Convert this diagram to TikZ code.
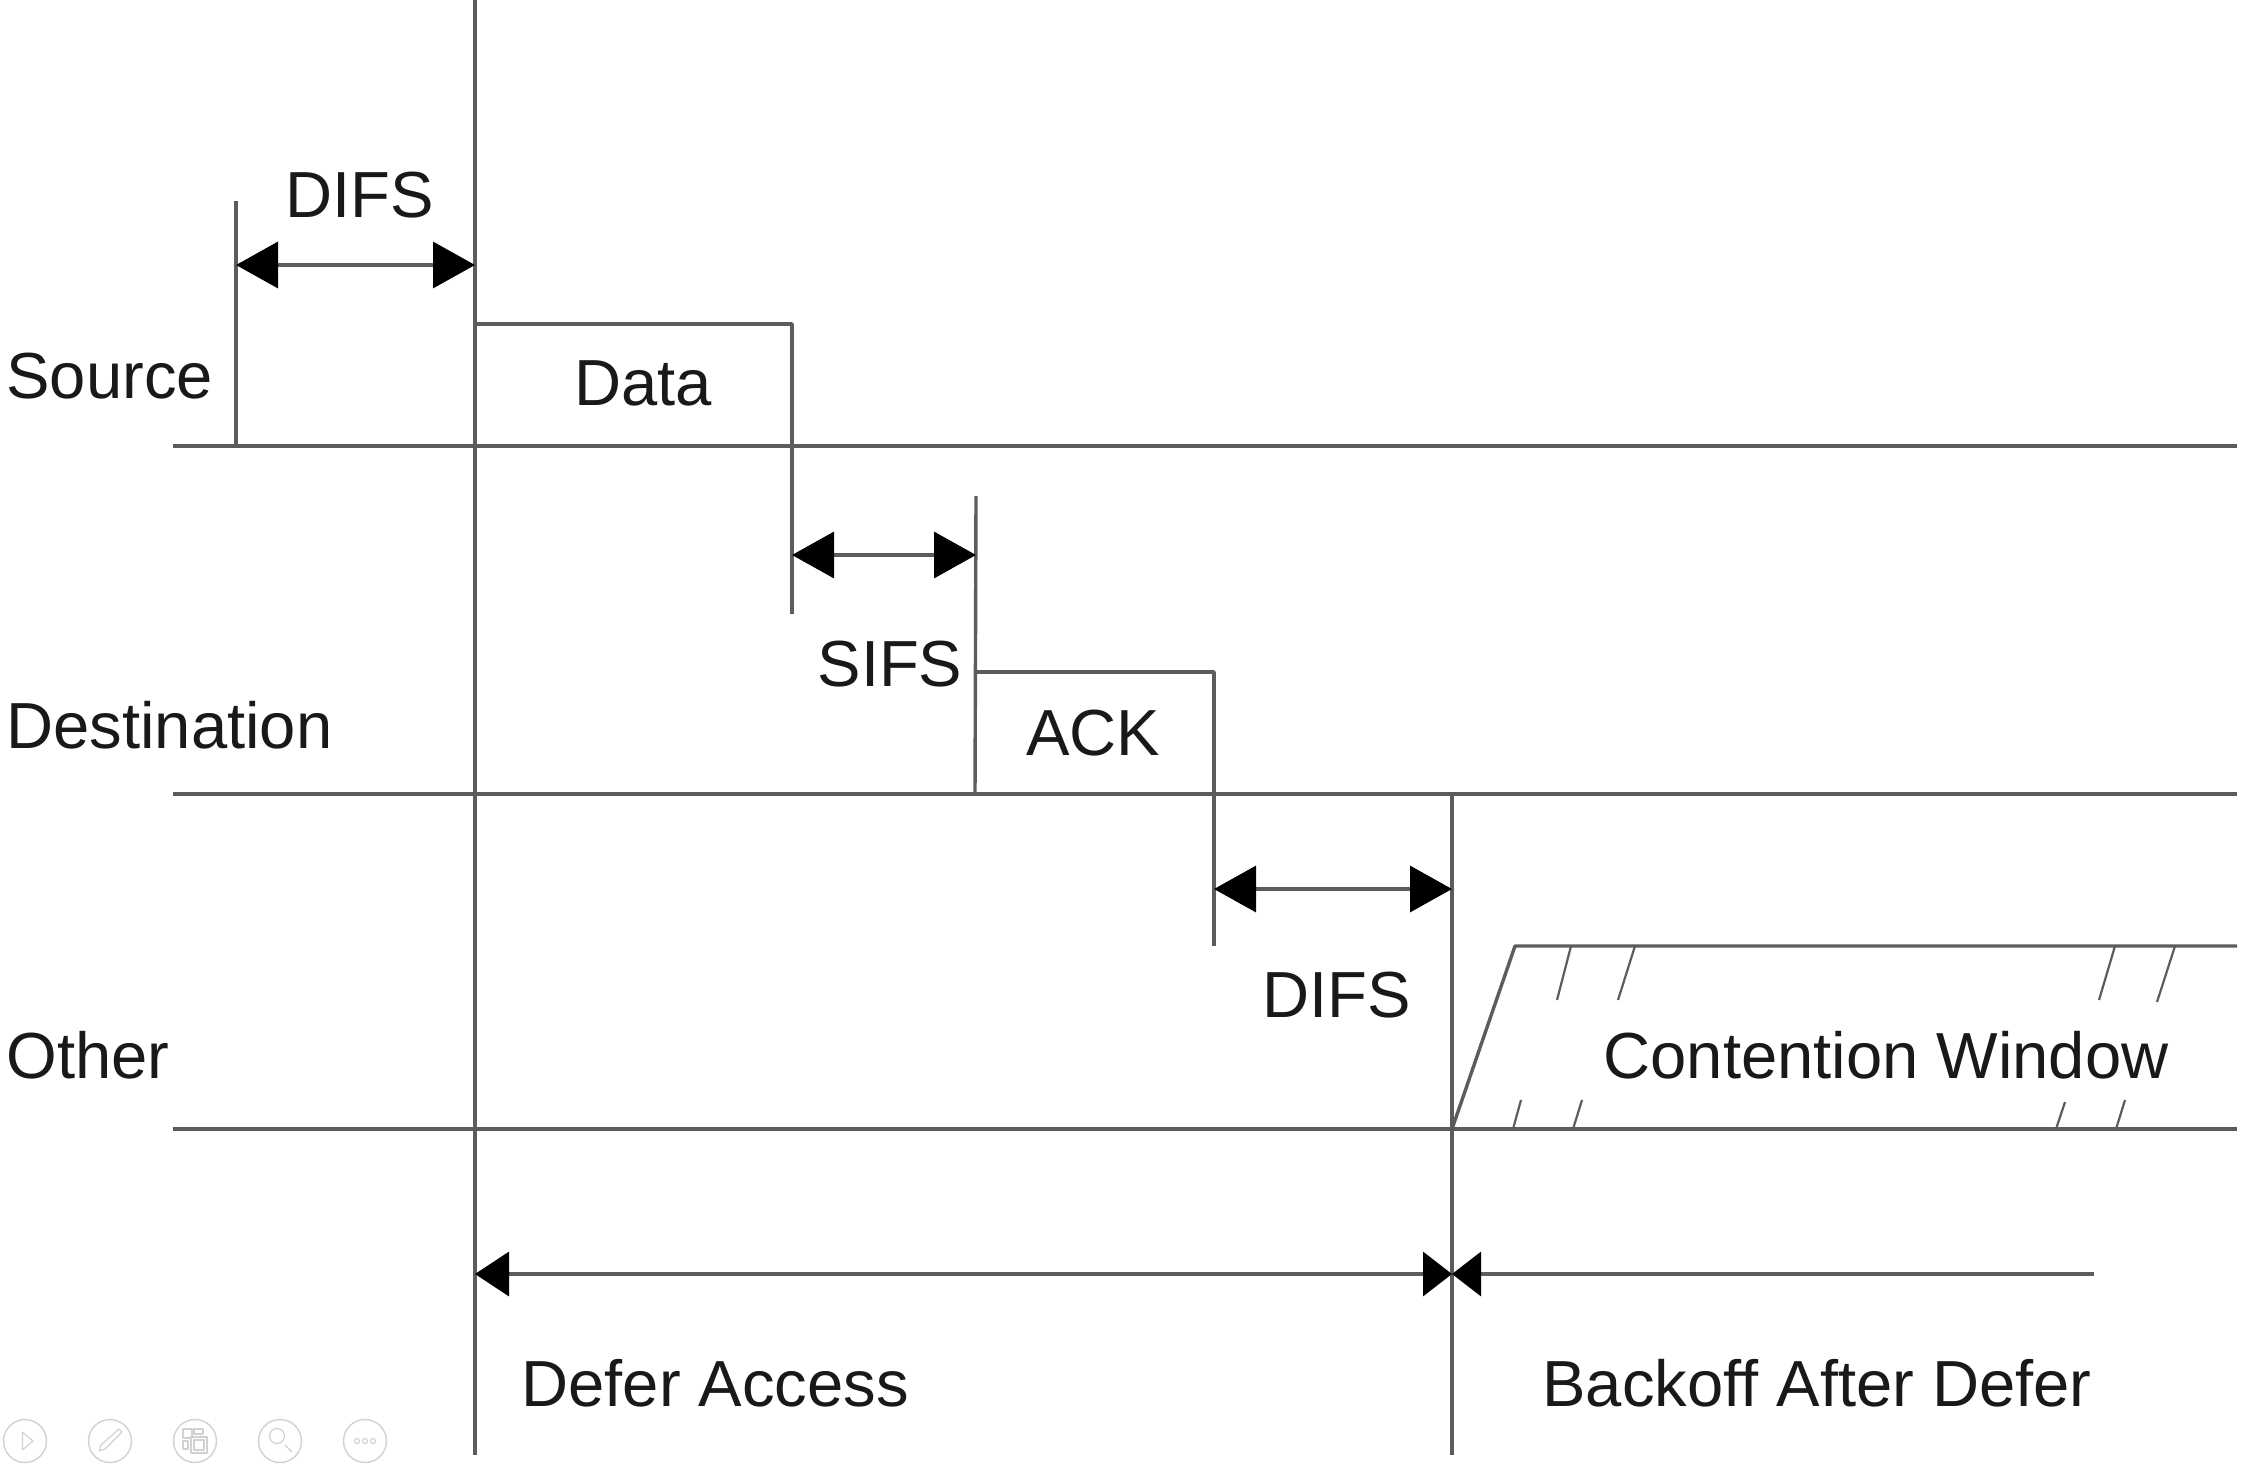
\documentclass[tikz,border=0pt]{standalone}
\usepackage{fontspec}
\setmainfont{Liberation Sans}
\usetikzlibrary{arrows.meta}
\definecolor{strokecol}{rgb}{0.36,0.36,0.36}
\definecolor{textcol}{rgb}{0.1,0.1,0.1}
\definecolor{iconcol}{rgb}{0.82,0.82,0.82}
\tikzset{
  wire/.style={draw=strokecol,line width=1.7bp},
  tipbig/.tip={Triangle[length=21bp,width=23bp,color=black]},
  tipmid/.tip={Triangle[length=17bp,width=22bp,color=black]},
  tipsmall/.tip={Triangle[length=14.5bp,width=22bp,color=black]},
  span/.style={wire,tipbig-tipbig},
  hatch/.style={draw=strokecol,line width=1.1bp},
  lbl/.style={inner sep=0pt,text=textcol,font=\fontsize{32.7}{40}\selectfont,anchor=base},
  lblw/.style={lbl,anchor=base west},
  icon/.style={circle,draw=iconcol,line width=0.7bp,minimum size=21.5bp,inner sep=0pt},
  glyph/.style={draw=iconcol,line width=0.6bp},
}
\begin{document}
\begin{tikzpicture}[x=0.5bp,y=-0.5bp,line join=bevel]
  \useasboundingbox (0,0) rectangle (2253,1476);
  % Node: time lines
  \coordinate (s0) at (173,446);
  \coordinate (s1) at (2237,446);
  \coordinate (d0) at (173,794);
  \coordinate (d1) at (2237,794);
  \coordinate (o0) at (173,1129);
  \coordinate (o1) at (2237,1129);
  % Node: ticks
  \coordinate (top) at (475,0);
  \coordinate (bot) at (475,1455);
  \coordinate (tick1a) at (236,201);
  \coordinate (tick1b) at (236,446);
  \coordinate (datal) at (475,324);
  \coordinate (datar) at (792,324);
  \coordinate (datab) at (792,614);
  \coordinate (tick2) at (976,496);
  \coordinate (ackb) at (975,794);
  \coordinate (ackl) at (976,672);
  \coordinate (ackr) at (1214,672);
  \coordinate (ackd) at (1214,946);
  \coordinate (end0) at (1452,794);
  \coordinate (end1) at (1452,1455);
  \coordinate (cwbase) at (1452,1129);
  \coordinate (cwtop) at (1515,946);
  \coordinate (cwend) at (2237,946);
  % Edge: source, destination, other
  \draw [wire] (s0) -- (s1);
  \draw [wire] (d0) -- (d1);
  \draw [wire] (o0) -- (o1);
  % Edge: long verticals
  \draw [wire] (top) -- (bot);
  \draw [wire] (end0) -- (end1);
  \draw [wire] (tick1a) -- (tick1b);
  % Edge: data and ack frames
  \draw [wire] (datal) -- (datar) -- (datab);
  \draw [wire] (tick2) -- (ackb);
  \draw [wire] (ackl) -- (ackr) -- (ackd);
  % Edge: contention window
  \draw [wire] (cwbase) -- (cwtop) -- (cwend);
  \draw [hatch] (1571,946) -- (1557,1000);
  \draw [hatch] (1635,946) -- (1618,1000);
  \draw [hatch] (2115,946) -- (2099,1000);
  \draw [hatch] (2175,946) -- (2157,1002);
  \draw [hatch] (1521,1100) -- (1513,1129);
  \draw [hatch] (1582,1100) -- (1573,1129);
  \draw [hatch] (2065,1102) -- (2056,1129);
  \draw [hatch] (2125,1100) -- (2116,1129);
  % Edge: spans
  \coordinate (difsa) at (236,265);
  \coordinate (difsb) at (475,265);
  \coordinate (sifsa) at (792,555);
  \coordinate (sifsb) at (976,555);
  \coordinate (difsc) at (1214,889);
  \coordinate (difsd) at (1452,889);
  \coordinate (defera) at (475,1274);
  \coordinate (deferb) at (1452,1274);
  \coordinate (backa) at (1452,1274);
  \coordinate (backb) at (2094,1274);
  \draw [span] (difsa) -- (difsb);
  \draw [span] (sifsa) -- (sifsb);
  \draw [span] (difsc) -- (difsd);
  \draw [wire,tipmid-tipsmall] (defera) -- (deferb);
  \draw [wire,tipsmall-] (backa) -- (backb);
  % Node: labels
  \node [lblw] (source) at (6,398) {Source};
  \node [lblw] (dest) at (6,748) {Destination};
  \node [lblw] (other) at (6,1078) {Other};
  \node [lbl] (difs1) at (360,217) {DIFS};
  \node [lbl] (data) at (643,405) {Data};
  \node [lbl] (sifs) at (890,686) {SIFS};
  \node [lbl] (ack) at (1093,755) {ACK};
  \node [lbl] (difs2) at (1337,1017) {DIFS};
  \node [lbl] (cw) at (1886,1078) {Contention Window};
  \node [lblw] (defer) at (521,1406) {Defer Access};
  \node [lblw] (backoff) at (1542,1406) {Backoff After Defer};
  % Node: toolbar
  \node [icon] (play) at (25,1441) {};
  \node [icon] (pen) at (110,1441) {};
  \node [icon] (pages) at (195,1441) {};
  \node [icon] (find) at (280,1441) {};
  \node [icon] (more) at (365,1441) {};
  \draw [glyph] (22.5,1432) -- (33,1441) -- (22.5,1450) -- cycle;
  \draw [glyph] (99,1451) -- (101,1445) -- (119,1429) -- (122,1432) -- (105,1449) -- cycle;
  \draw [glyph] (183,1429) rectangle (192,1438);
  \draw [glyph] (194,1429) rectangle (203,1434);
  \draw [glyph] (183,1441) rectangle (188,1449);
  \draw [glyph] (191,1437) rectangle (207,1453);
  \draw [glyph] (194,1440) rectangle (204,1450);
  \draw [glyph] (277,1436) circle (7.5);
  \draw [glyph] (285,1445) -- (292,1452);
  \draw [glyph] (357,1441) circle (2.5);
  \draw [glyph] (365,1441) circle (2.5);
  \draw [glyph] (373,1441) circle (2.5);
\end{tikzpicture}
\end{document}
